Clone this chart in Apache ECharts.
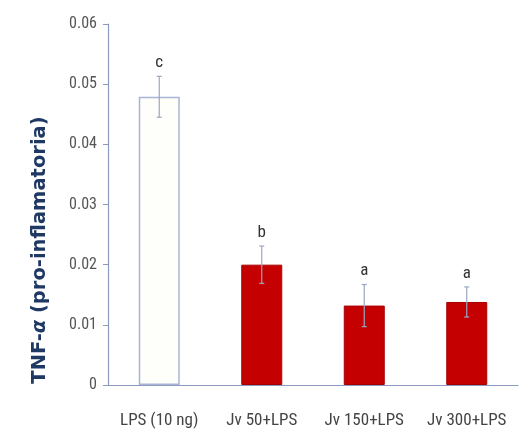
<!DOCTYPE html>
<html><head><meta charset="utf-8">
<script src="https://cdn.jsdelivr.net/npm/echarts@6/dist/echarts.min.js"></script>
<style>html,body{margin:0;padding:0;background:#fff}#c{width:527px;height:436px}</style>
</head><body><div id="c"></div>
<script>
var categories = ['LPS (10 ng)', 'Jv 50+LPS', 'Jv 150+LPS', 'Jv 300+LPS'];
var values = [0.0479, 0.0200, 0.0132, 0.0138];
var errors = [0.0034, 0.0031, 0.0035, 0.0025];
var letters = ['c', 'b', 'a', 'a'];
var yTicks = [0, 0.01, 0.02, 0.03, 0.04, 0.05, 0.06];
var yTitle = ['TNF-', 'α', ' (pro-inflamatoria)'];

var chart = echarts.init(document.getElementById('c'), null, {renderer: 'canvas'});
var barData = values.map(function (v, i) {
  return {
    value: v,
    itemStyle: i === 0
      ? {color: '#fefefa', borderColor: '#aab4d6', borderWidth: 1.5}
      : {color: '#c40000', borderColor: '#a80000', borderWidth: 1}
  };
});
var errData = values.map(function (v, i) { return [i, v, errors[i]]; });

chart.setOption({
  animation: false,
  grid: {left: 108, right: 9, top: 24, bottom: 51},
  graphic: [{
    type: 'text',
    x: 40, y: 250,
    rotation: Math.PI / 2,
    style: {
      text: '{b|' + yTitle[0] + '}{i|' + yTitle[1] + '}{b|' + yTitle[2] + '}',
      align: 'center', verticalAlign: 'middle',
      rich: {
        b: {fontFamily: 'DejaVu Sans', fontWeight: 'bold', fontSize: 19.5, fill: '#1f3864', color: '#1f3864'},
        i: {fontFamily: 'DejaVu Sans', fontWeight: 'bold', fontStyle: 'italic', fontSize: 19.5, fill: '#1f3864', color: '#1f3864'}
      }
    }
  }],
  xAxis: {
    type: 'category',
    data: categories,
    axisLine: {lineStyle: {color: '#8c9bbd', width: 1.2}},
    axisTick: {show: false},
    axisLabel: {color: '#444', fontFamily: 'Roboto Condensed', fontSize: 17, margin: 27, interval: 0}
  },
  yAxis: {
    type: 'value',
    min: 0, max: 0.06, interval: 0.01,
    splitLine: {show: false},
    axisLine: {show: true, lineStyle: {color: '#8c9bbd', width: 1.2}},
    axisTick: {show: true, length: 5, inside: false, lineStyle: {color: '#8c9bbd'}},
    axisLabel: {
      color: '#555', fontFamily: 'Roboto Condensed', fontSize: 16, margin: 11,
      formatter: function (v) {
        var s = yTicks.find(function (t) { return Math.abs(t - v) < 1e-9; });
        if (s === 0) return '0';
        return v.toFixed(2);
      }
    }
  },
  series: [
    {
      type: 'bar',
      data: barData,
      barWidth: '40%'
    },
    {
      type: 'custom',
      data: errData,
      z: 5,
      renderItem: function (params, api) {
        var x = api.value(0), v = api.value(1), e = api.value(2), letter = letters[params.dataIndex];
        var top = api.coord([x, v + e]);
        var bot = api.coord([x, v - e]);
        var cw = 5;
        var col = '#9aa6c4';
        return {
          type: 'group',
          children: [
            {type: 'line', shape: {x1: top[0], y1: top[1], x2: bot[0], y2: bot[1]}, style: {stroke: col, lineWidth: 1.2}},
            {type: 'line', shape: {x1: top[0] - cw / 2, y1: top[1], x2: top[0] + cw / 2, y2: top[1]}, style: {stroke: col, lineWidth: 1.2}},
            {type: 'line', shape: {x1: bot[0] - cw / 2, y1: bot[1], x2: bot[0] + cw / 2, y2: bot[1]}, style: {stroke: col, lineWidth: 1.2}},
            {type: 'text', style: {text: letter, x: top[0], y: top[1] - 5, align: 'center', verticalAlign: 'bottom', fill: '#333', fontFamily: 'Roboto Condensed', fontSize: 17}}
          ]
        };
      }
    }
  ]
});
</script>
</body></html>
